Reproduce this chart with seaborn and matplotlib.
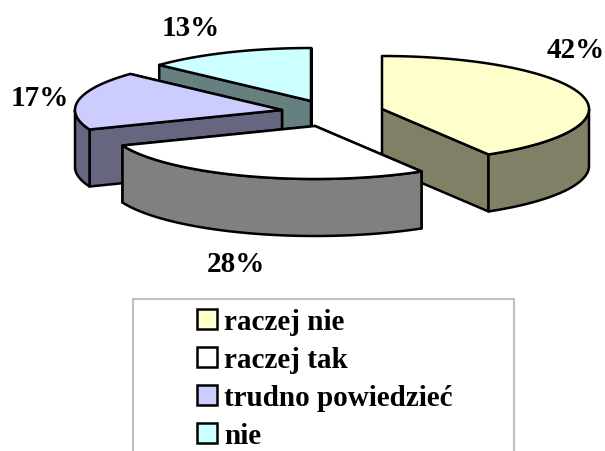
import numpy as np
import matplotlib
matplotlib.use('Agg')
import matplotlib.pyplot as plt
from matplotlib.patches import Patch, Rectangle
import seaborn as sns

# slice shares, printed labels kept apart
categories = ['raczej nie', 'raczej tak', 'trudno powiedzieć', 'nie']
shares = [41.4, 27.6, 17.9, 13.1]
pct_labels = ['42%', '28%', '17%', '13%']
colors = ['#FFFFCC', '#FFFFFF', '#CCCCFF', '#CCFFFF']

sns.set_theme(style='white')
plt.rcParams['font.family'] = ['Liberation Serif', 'DejaVu Serif']

# exploded pie layout, in pixels of the picture
centers = [(382, 110), (315, 127), (282, 111), (311, 102)]
label_pos = [(576, 51), (236, 265), (40, 99), (191, 29)]
rx, ry, depth = 207, 53, 57
lw = 1.8
draw_order = [3, 0, 2, 1]

palette = sns.color_palette(colors)
edges = np.concatenate([[0], np.cumsum(shares)]) / np.sum(shares) * 360


def rim(cx, cy, deg):
    t = np.radians(deg)
    return cx + rx * np.sin(t), cy - ry * np.cos(t)


fig = plt.figure(figsize=(6.05, 4.52), dpi=100)
ax = fig.add_axes([0, 0, 1, 1])
ax.set_xlim(0, 605)
ax.set_ylim(452, 0)
ax.axis('off')

for i in draw_order:
    cx, cy = centers[i]
    a, b = edges[i], edges[i + 1]
    side = np.array(palette[i]) * 0.5
    style = dict(facecolor=side, edgecolor='black', linewidth=lw, joinstyle='round')

    # radial walls, the one nearer the viewer last
    walls = sorted([a, b], key=lambda d: rim(cx, cy, d)[1])
    for d in walls:
        x, y = rim(cx, cy, d)
        ax.fill([cx, x, x, cx], [cy, y, y + depth, cy + depth], **style)

    # outer wall, only the front half of the ellipse shows
    lo, hi = max(a, 90), min(b, 270)
    if lo < hi:
        t = np.linspace(lo, hi, 80)
        x, y = rim(cx, cy, t)
        ax.fill(np.r_[x, x[::-1]], np.r_[y, y[::-1] + depth], **style)

    # top face
    t = np.linspace(a, b, 120)
    x, y = rim(cx, cy, t)
    ax.fill(np.r_[cx, x], np.r_[cy, y], facecolor=palette[i], edgecolor='black',
            linewidth=lw, joinstyle='round')

for txt, (x, y) in zip(pct_labels, label_pos):
    ax.text(x, y, txt, ha='center', va='center', fontsize=21, fontweight='bold', color='black')

# legend box runs off the bottom of the picture
ax.add_patch(Rectangle((133, 300), 381, 200, facecolor='white', edgecolor='#C0C0C0', linewidth=1.5))
handles = [Patch(facecolor=c, edgecolor='black', linewidth=lw) for c in palette]
ax.legend(handles, categories, loc='upper left', bbox_to_anchor=(197, 309), bbox_transform=ax.transData,
          frameon=False, borderpad=0, borderaxespad=0, handlelength=0.69, handleheight=0.66,
          handletextpad=0.25, labelspacing=0.38, prop=dict(size=21, weight='bold'), labelcolor='black')

fig.savefig('out.png', dpi=100)
